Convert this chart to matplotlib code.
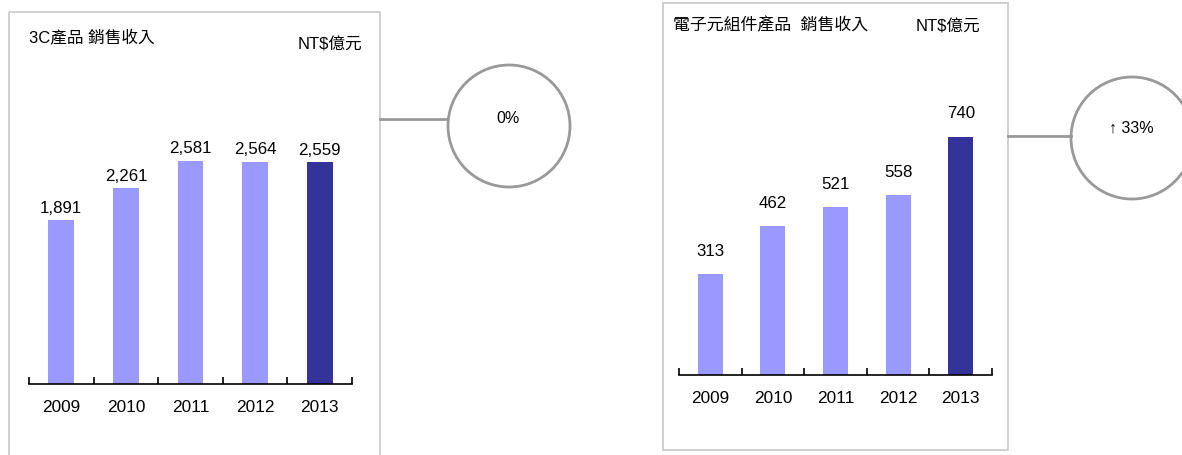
import matplotlib

matplotlib.use("Agg")
import matplotlib.pyplot as plt
from matplotlib.patches import Rectangle, Circle

plt.rcParams["font.family"] = ["Liberation Sans", "Noto Sans CJK TC", "DejaVu Sans"]

years = ["2009", "2010", "2011", "2012", "2013"]
sales_3c = [1891, 2261, 2581, 2564, 2559]
sales_elec = [313, 462, 521, 558, 740]
growth_3c = "0%"
growth_elec = "↑ 33%"

LIGHT = "#9999ff"
DARK = "#333399"
BOX_EDGE = "#c8c8c8"
RING = "#999999"

W, H = 1182, 456


def px_axes(fig, x0, y_top, x1, y_bottom):
    # pixel box (origin top-left) -> figure fraction axes
    return fig.add_axes([x0 / W, 1 - y_bottom / H, (x1 - x0) / W, (y_bottom - y_top) / H])


def bar_panel(fig, x0, x1, y_top, y_base, values, ymax, label_dy):
    ax = px_axes(fig, x0, y_top, x1, y_base)
    ax.patch.set_alpha(0)
    colors = [LIGHT] * (len(values) - 1) + [DARK]
    bars = ax.bar(range(len(values)), values, width=0.4, color=colors)
    ax.set_xlim(-0.5, len(values) - 0.5)
    ax.set_ylim(0, ymax)
    for s in ("top", "right", "left"):
        ax.spines[s].set_visible(False)
    ax.spines["bottom"].set_linewidth(1.2)
    ax.set_yticks([])
    ax.set_xticks(range(len(values)))
    ax.set_xticklabels(years, fontsize=12.4)
    ax.set_xticks([i - 0.5 for i in range(len(values) + 1)], minor=True)
    ax.tick_params(axis="x", which="major", length=0, pad=11)
    ax.tick_params(axis="x", which="minor", direction="in", length=5, width=1.2)
    for b, v in zip(bars, values):
        ax.annotate(f"{v:,}", (b.get_x() + b.get_width() / 2, v),
                    textcoords="offset pixels", xytext=(0, label_dy),
                    ha="center", va="center", fontsize=12.2)
    return ax


fig = plt.figure(figsize=(W / 100, H / 100), dpi=100)

# overlay for frames, connectors, circles and titles (pixel coordinates)
ov = fig.add_axes([0, 0, 1, 1])
ov.set_xlim(0, W)
ov.set_ylim(H, 0)
ov.axis("off")

# left panel frame
ov.add_patch(Rectangle((9, 13), 371, 470, fill=False, edgecolor=BOX_EDGE, linewidth=1.2))
ov.text(29, 37, "3C產品 銷售收入", ha="left", va="center", fontsize=12)
ov.text(362, 45, "NT$億元", ha="right", va="center", fontsize=12)
ov.plot([380, 447], [120, 120], color=RING, linewidth=2)
ov.add_patch(Circle((509, 127), 61, fill=False, edgecolor=RING, linewidth=2))
ov.text(508, 119, growth_3c, ha="center", va="center", fontsize=11.5)

# right panel frame
ov.add_patch(Rectangle((663, 4), 345, 447, fill=False, edgecolor=BOX_EDGE, linewidth=1.2))
ov.text(673, 25, "電子元組件產品  銷售收入", ha="left", va="center", fontsize=12.2)
ov.text(980, 27, "NT$億元", ha="right", va="center", fontsize=12)
ov.plot([1008, 1071], [137, 137], color=RING, linewidth=2)
ov.add_patch(Circle((1132, 139), 61, fill=False, edgecolor=RING, linewidth=2))
ov.text(1131, 128, growth_elec, ha="center", va="center", fontsize=11.5)

bar_panel(fig, 29, 352, 30, 385, sales_3c, 4100, 13)
bar_panel(fig, 679, 992, 30, 376, sales_elec, 1075, 24)

fig.savefig("out.png", dpi=100)
